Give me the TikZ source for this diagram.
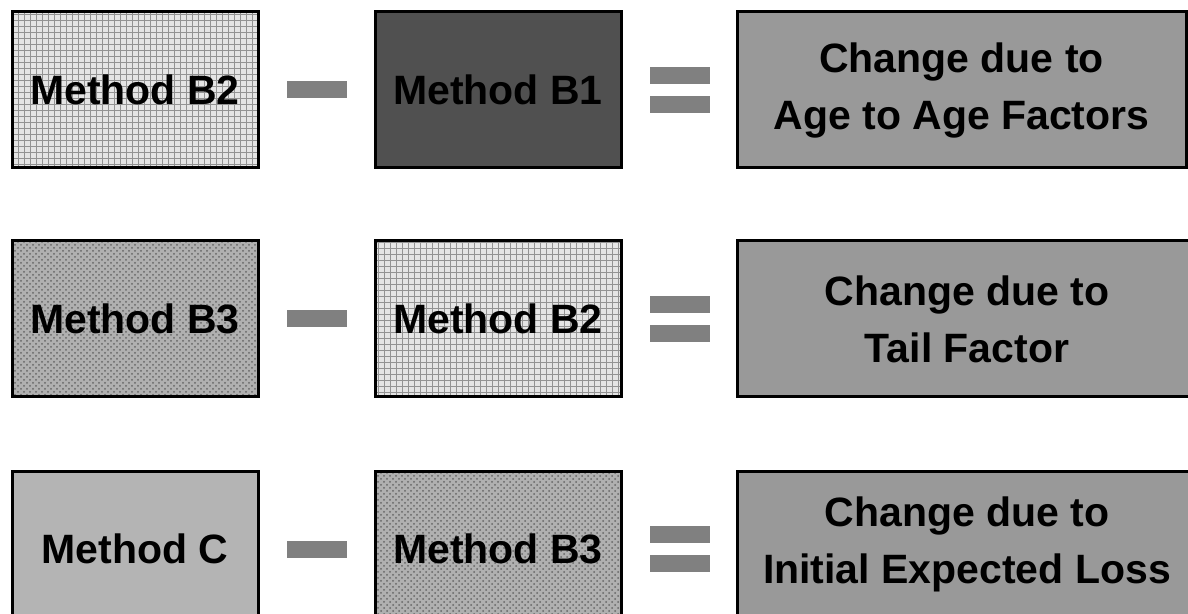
\documentclass[tikz,border=0pt]{standalone}
\usepackage{fontspec}
\setsansfont{Liberation Sans}
\usetikzlibrary{patterns}

\definecolor{darkbox}{HTML}{505050}
\definecolor{resbox}{HTML}{999999}
\definecolor{cbox}{HTML}{B4B4B4}
\definecolor{barcol}{HTML}{808080}

\begin{document}
\begin{tikzpicture}[
    x=0.5pt, y=-0.5pt,
    font=\sffamily\bfseries\fontsize{20.5}{28.5}\selectfont,
    method/.style={rectangle, draw, line width=1.5pt, minimum width=123pt, minimum height=78pt, inner sep=0pt},
    result/.style={method, fill=resbox, align=center},
    gridbox/.style={method, preaction={fill=gray!20}, pattern=grid, pattern color=gray!85},
    dotbox/.style={method, preaction={fill=gray!62}, pattern=crosshatch dots, pattern color=black!60},
    bar/.style={rectangle, fill=barcol, draw=none, minimum width=30pt, minimum height=8.5pt, inner sep=0pt}
  ]

  \useasboundingbox (0,0) rectangle (1188,614);
  \clip (0,0) rectangle (1188,614);

  % Row 1: age to age factors
  \node[gridbox] (L1) at (135,90) {Method B2};
  \node[method, fill=darkbox] (M1) at (498,90) {Method B1};
  \node[result, minimum width=224.5pt] (R1) at (961.5,90) {Change due to\\Age to Age Factors};
  \node[bar] (minus1) at (317,90) {};
  \node[bar] (eqtop1) at (679.5,75.5) {};
  \node[bar] (eqbot1) at (679.5,104.5) {};

  % Row 2: tail factor
  \node[dotbox] (L2) at (135,319) {Method B3};
  \node[gridbox] (M2) at (498,319) {Method B2};
  \node[result, minimum width=230pt] (R2) at (967,319) {Change due to\\Tail Factor};
  \node[bar] (minus2) at (317,319) {};
  \node[bar] (eqtop2) at (679.5,304.5) {};
  \node[bar] (eqbot2) at (679.5,333.5) {};

  % Row 3: initial expected loss - boxes run off the page, text sits a bit high
  \node[method, fill=cbox] (L3) at (135,549) {Method C};
  \node[dotbox] (M3) at (498,549) {Method B3};
  \node[result, minimum width=230pt,
        label={[align=center, yshift=2.5pt]center:Change due to\\Initial Expected Loss}] (R3) at (967,549) {};
  \node[bar] (minus3) at (317,549) {};
  \node[bar] (eqtop3) at (679.5,534.5) {};
  \node[bar] (eqbot3) at (679.5,563.5) {};

\end{tikzpicture}
\end{document}
